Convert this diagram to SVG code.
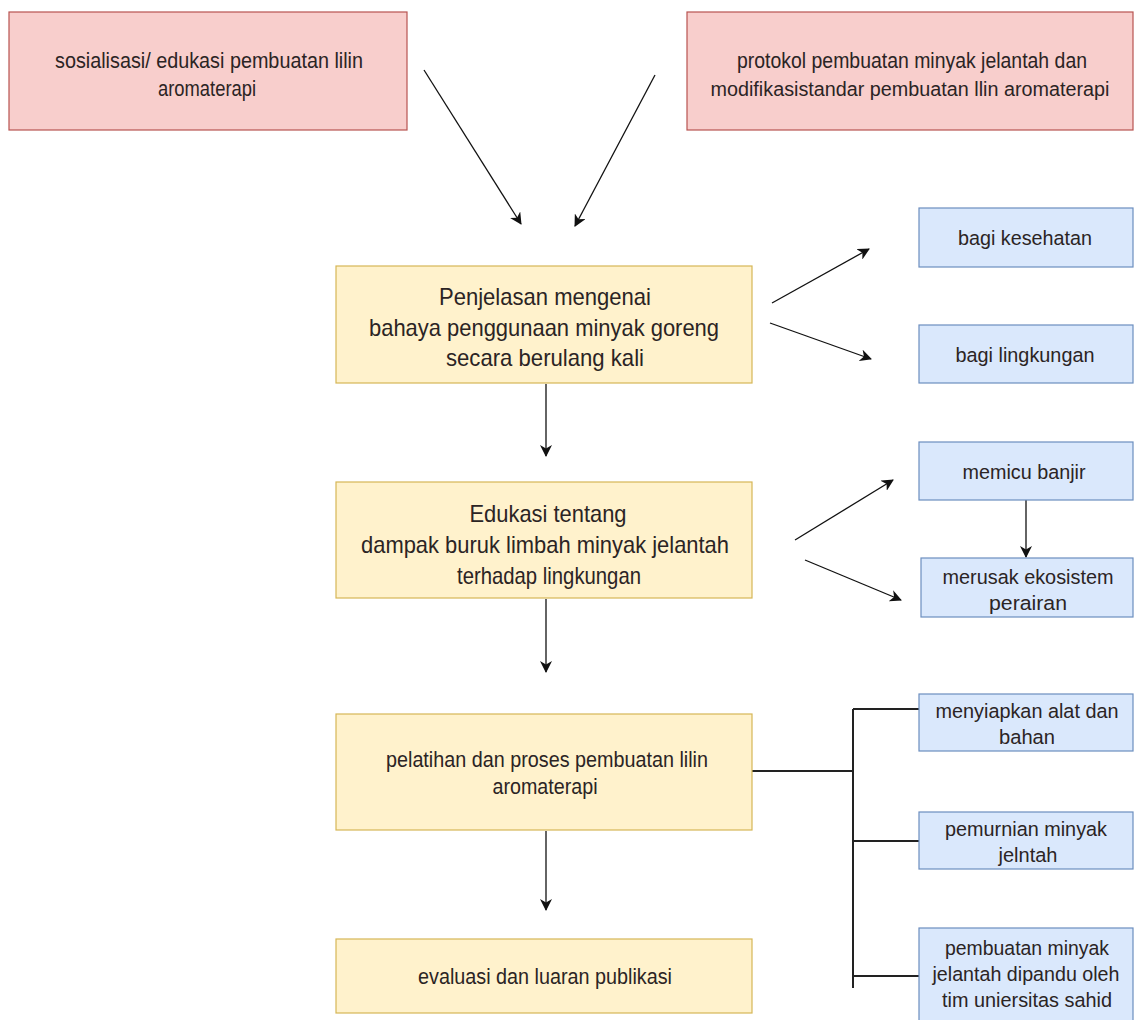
<svg xmlns="http://www.w3.org/2000/svg" width="1134" height="1020" viewBox="0 0 1134 1020">
<style>
.pink{fill:#f8cecc;stroke:#b85450;stroke-width:1.2}
.yel{fill:#fff2cc;stroke:#d6b656;stroke-width:1.2}
.blue{fill:#dae8fc;stroke:#6c8ebf;stroke-width:1.2}
text{font-family:"Liberation Sans",Arial,sans-serif;fill:#2b2424;text-anchor:middle}
.s{font-size:22px}
.bt{font-size:20.5px}
.L{font-size:24px}
.c{stroke:#111;stroke-width:1.3;fill:none}
.b{stroke:#222;stroke-width:2;fill:none}
</style>
<defs>
<marker id="ah" markerWidth="12" markerHeight="12" refX="11" refY="6" orient="auto" markerUnits="userSpaceOnUse" viewBox="0 0 12 12">
<path d="M0,0 L12,6 L0,12 L3.5,6 Z" fill="#111"/>
</marker>
</defs>
<rect width="1134" height="1020" fill="#fff"/>
<g id="connectors">
<line class="c" x1="424" y1="70" x2="521" y2="224" marker-end="url(#ah)"/>
<line class="c" x1="655" y1="75" x2="575" y2="226" marker-end="url(#ah)"/>
<line class="c" x1="546" y1="384" x2="546" y2="456" marker-end="url(#ah)"/>
<line class="c" x1="546" y1="599" x2="546" y2="672" marker-end="url(#ah)"/>
<line class="c" x1="546" y1="831" x2="546" y2="910" marker-end="url(#ah)"/>
<line class="c" x1="772" y1="303" x2="869" y2="249" marker-end="url(#ah)"/>
<line class="c" x1="770" y1="323" x2="871" y2="359" marker-end="url(#ah)"/>
<line class="c" x1="795" y1="540" x2="893" y2="480" marker-end="url(#ah)"/>
<line class="c" x1="805" y1="560" x2="901" y2="600" marker-end="url(#ah)"/>
<line class="c" x1="1026" y1="500" x2="1026" y2="557" marker-end="url(#ah)"/>
<polyline class="b" points="752,771 853,771"/>
<polyline class="b" points="853,709 853,988"/>
<polyline class="b" points="853,709 919,709"/>
<polyline class="b" points="853,841 919,841"/>
<polyline class="b" points="853,976 919,976"/>
</g>
<g id="n1"><rect class="pink" x="9" y="12" width="398" height="118"/>
<text class="s" x="209" y="68" textLength="308" lengthAdjust="spacingAndGlyphs">sosialisasi/ edukasi pembuatan lilin</text>
<text class="s" x="207" y="96" textLength="98" lengthAdjust="spacingAndGlyphs">aromaterapi</text></g>
<g id="n2"><rect class="pink" x="687" y="12" width="446" height="118"/>
<text class="s" x="912" y="68" textLength="350" lengthAdjust="spacingAndGlyphs">protokol pembuatan minyak jelantah dan</text>
<text style="font-size:20px" x="910" y="96" textLength="399" lengthAdjust="spacingAndGlyphs">modifikasistandar pembuatan llin aromaterapi</text></g>
<g id="n3"><rect class="yel" x="336" y="266" width="416" height="117"/>
<text class="L" x="545" y="305" textLength="212" lengthAdjust="spacingAndGlyphs">Penjelasan mengenai</text>
<text class="L" x="544" y="336" textLength="350" lengthAdjust="spacingAndGlyphs">bahaya penggunaan minyak goreng</text>
<text class="L" x="545" y="366" textLength="198" lengthAdjust="spacingAndGlyphs">secara berulang kali</text></g>
<g id="n4"><rect class="yel" x="336" y="482" width="416" height="116"/>
<text class="L" x="548" y="522" textLength="157" lengthAdjust="spacingAndGlyphs">Edukasi tentang</text>
<text class="L" x="545" y="553" textLength="368" lengthAdjust="spacingAndGlyphs">dampak buruk limbah minyak jelantah</text>
<text class="L" x="549" y="584" textLength="184" lengthAdjust="spacingAndGlyphs">terhadap lingkungan</text></g>
<g id="n5"><rect class="yel" x="336" y="714" width="416" height="116"/>
<text class="s" x="547" y="767" textLength="322" lengthAdjust="spacingAndGlyphs">pelatihan dan proses pembuatan lilin</text>
<text class="s" x="545" y="794" textLength="105" lengthAdjust="spacingAndGlyphs">aromaterapi</text></g>
<g id="n6"><rect class="yel" x="336" y="939" width="416" height="74"/>
<text class="s" x="545" y="984" textLength="254" lengthAdjust="spacingAndGlyphs">evaluasi dan luaran publikasi</text></g>
<g id="n7"><rect class="blue" x="919" y="208" width="214" height="59"/>
<text class="bt" x="1025" y="245" textLength="134" lengthAdjust="spacingAndGlyphs">bagi kesehatan</text></g>
<g id="n8"><rect class="blue" x="919" y="325" width="214" height="58"/>
<text class="bt" x="1025" y="362" textLength="139" lengthAdjust="spacingAndGlyphs">bagi lingkungan</text></g>
<g id="n9"><rect class="blue" x="919" y="442" width="214" height="58"/>
<text class="bt" x="1024" y="479" textLength="123" lengthAdjust="spacingAndGlyphs">memicu banjir</text></g>
<g id="n10"><rect class="blue" x="921" y="558" width="212" height="59"/>
<text class="bt" x="1028" y="584" textLength="171" lengthAdjust="spacingAndGlyphs">merusak ekosistem</text>
<text class="bt" x="1028" y="610" textLength="78" lengthAdjust="spacingAndGlyphs">perairan</text></g>
<g id="n11"><rect class="blue" x="919" y="694" width="214" height="57"/>
<text class="bt" x="1027" y="718" textLength="183" lengthAdjust="spacingAndGlyphs">menyiapkan alat dan</text>
<text class="bt" x="1027" y="744" textLength="56" lengthAdjust="spacingAndGlyphs">bahan</text></g>
<g id="n12"><rect class="blue" x="919" y="812" width="214" height="57"/>
<text class="bt" x="1026" y="836" textLength="162" lengthAdjust="spacingAndGlyphs">pemurnian minyak</text>
<text class="bt" x="1028" y="862" textLength="59" lengthAdjust="spacingAndGlyphs">jelntah</text></g>
<g id="n13"><rect class="blue" x="919" y="928" width="214" height="100"/>
<text class="bt" x="1027" y="955" textLength="164" lengthAdjust="spacingAndGlyphs">pembuatan minyak</text>
<text class="bt" x="1026" y="981" textLength="187" lengthAdjust="spacingAndGlyphs">jelantah dipandu oleh</text>
<text class="bt" x="1027" y="1007" textLength="170" lengthAdjust="spacingAndGlyphs">tim uniersitas sahid</text></g>
</svg>
